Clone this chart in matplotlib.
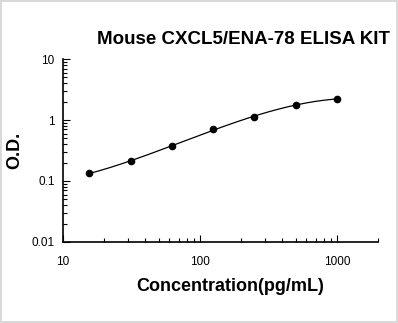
import numpy as np
import matplotlib
matplotlib.use("Agg")
import matplotlib.pyplot as plt
from matplotlib.ticker import LogLocator, FixedLocator, FixedFormatter, NullFormatter

plt.rcParams['font.family'] = ['Liberation Sans', 'DejaVu Sans']

# standard curve data
conc = [15.6, 31.25, 62.5, 125, 250, 500, 1000]
od = [0.134, 0.21, 0.375, 0.72, 1.12, 1.76, 2.23]

x_ticks = [10, 100, 1000]
x_labels = ['10', '100', '1000']
y_ticks = [0.01, 0.1, 1, 10]
y_labels = ['0.01', '0.1', '1', '10']

fig = plt.figure(figsize=(3.98, 3.23), dpi=100)
fig.patch.set_edgecolor('#d9d9d9')
fig.patch.set_linewidth(1.5)
ax = fig.add_axes([0.158, 0.251, 0.792, 0.566])

# smooth fit line in log-log space
lx, ly = np.log10(conc), np.log10(od)
coef = np.polyfit(lx, ly, 3)
xs = np.linspace(lx[0], lx[-1], 200)
ax.plot(10 ** xs, 10 ** np.polyval(coef, xs), color='black', lw=0.9)
ax.plot(conc, od, 'o', color='black', ms=4.5)

ax.set_xscale('log')
ax.set_yscale('log')
ax.set_xlim(10, 2000)
ax.set_ylim(0.01, 10)

ax.xaxis.set_major_locator(FixedLocator(x_ticks))
ax.xaxis.set_major_formatter(FixedFormatter(x_labels))
ax.yaxis.set_major_locator(FixedLocator(y_ticks))
ax.yaxis.set_major_formatter(FixedFormatter(y_labels))
ax.xaxis.set_minor_locator(LogLocator(base=10, subs=np.arange(2, 10)))
ax.yaxis.set_minor_locator(LogLocator(base=10, subs=np.arange(2, 10)))
ax.xaxis.set_minor_formatter(NullFormatter())
ax.yaxis.set_minor_formatter(NullFormatter())

ax.tick_params(which='both', direction='in', labelsize=8.5, width=0.8)
ax.tick_params(which='major', length=5)
ax.tick_params(which='minor', length=3)
ax.tick_params(axis='x', which='major', pad=10)
ax.tick_params(axis='y', which='major', pad=6)

for s in ['top', 'right']:
    ax.spines[s].set_visible(False)
for s in ['left', 'bottom']:
    ax.spines[s].set_linewidth(1.2)

ax.set_xlabel('Concentration(pg/mL)', fontsize=13, fontweight='bold', labelpad=7)
ax.xaxis.label.set_x(0.53)
ax.set_ylabel('O.D.', fontsize=13, fontweight='bold', labelpad=6)
fig.text(0.613, 0.877, 'Mouse CXCL5/ENA-78 ELISA KIT', ha='center', va='center',
         fontsize=13.5, fontweight='bold')

fig.savefig('out.png', dpi=100)
